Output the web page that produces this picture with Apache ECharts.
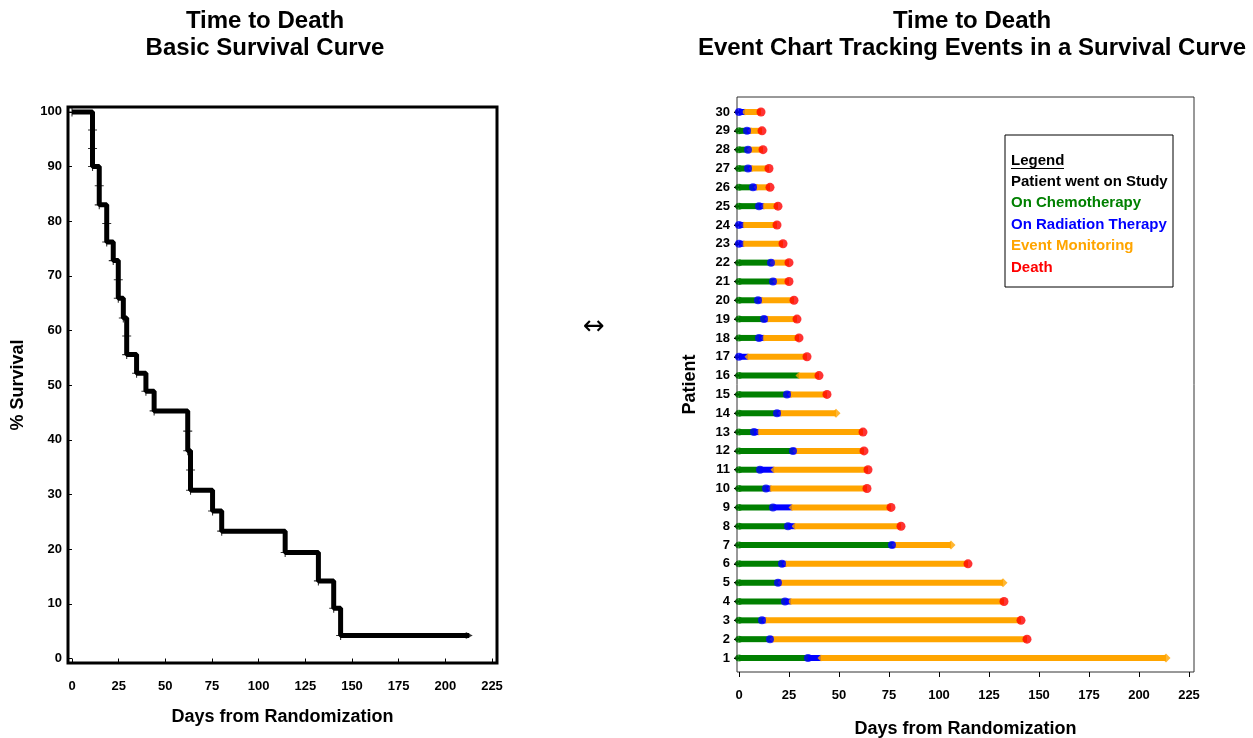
<!DOCTYPE html>
<html>
<head>
<meta charset="utf-8">
<script src="https://cdn.jsdelivr.net/npm/echarts@6/dist/echarts.min.js"></script>
<style>
  html, body { margin: 0; padding: 0; background: #fff; }
  #chart { width: 1253px; height: 738px; }
</style>
</head>
<body>
<div id="chart"></div>
<script>
// left panel: survival steps (day, % surviving after the step)
const stepDays = [0, 11, 14.6, 18.6, 22.1, 24.8, 27.5, 29.3, 34.6, 39.6, 44, 62, 63.5, 75.3, 80.2, 114.2, 132, 140.2, 143.9, 212.8];
const stepSurv = [100, 90, 83, 76.2, 72.8, 65.9, 62.3, 55.6, 52.2, 48.9, 45.3, 38, 30.8, 27, 23.3, 19.4, 14.2, 9.2, 4.2, 4.2];
// little "+" marks on the curve
const markDays = [0, 11, 11, 11, 14.6, 14.6, 18.6, 18.6, 22.1, 24.8, 24.8, 27.5, 29.3, 29.3, 34.6, 39.6, 44, 62, 62, 63.5, 63.5, 75.3, 80.2, 114.2, 132, 140.2, 143.9];
const markSurv = [100, 96.7, 93.3, 90, 86.5, 83, 79.6, 76.2, 72.8, 69.3, 65.9, 62.3, 59, 55.6, 52.2, 48.9, 45.3, 41.6, 38, 34.5, 30.8, 27, 23.3, 19.4, 14.2, 9.2, 4.2];

const survTicksX = [0, 25, 50, 75, 100, 125, 150, 175, 200, 225];
const survTicksY = [0, 10, 20, 30, 40, 50, 60, 70, 80, 90, 100];

// right panel: one entry per patient 1..30
const patients = [1, 2, 3, 4, 5, 6, 7, 8, 9, 10, 11, 12, 13, 14, 15, 16, 17, 18, 19, 20, 21, 22, 23, 24, 25, 26, 27, 28, 29, 30];
const onChemo  = [1, 1, 1, 1, 1, 1, 1, 1, 1, 1, 1, 1, 1, 1, 1, 1, 0, 1, 1, 1, 1, 1, 0, 0, 1, 1, 1, 1, 1, 0];
const radStart = [34.5, 15.5, 11.5, 23, 19.5, 21.5, 76.5, 24.5, 17, 13.5, 10.5, 27, 7.5, 19, 24, 30, 0, 10, 12.5, 9.5, 17, 16, 0, 0, 10, 7, 4.5, 4.5, 4, 0];
const monStart = [41, 17, 13.5, 26, 21, 23.5, 78, 28, 26.5, 16, 17.5, 28.5, 10, 21, 26, 30, 4.5, 12.5, 14.5, 11.5, 18.5, 17, 2.5, 2.5, 12.5, 9, 6.5, 5.5, 6, 3];
const lastDay  = [213.5, 144, 141, 132.5, 132, 114.5, 106, 81, 76, 64, 64.5, 62.5, 62, 48.5, 44, 40, 34, 30, 29, 27.5, 25, 25, 22, 19, 19.5, 15.5, 15, 12, 11.5, 11];
const died     = [0, 1, 1, 1, 0, 1, 0, 1, 1, 1, 1, 1, 1, 0, 1, 1, 1, 1, 1, 1, 1, 1, 1, 1, 1, 1, 1, 1, 1, 1];

const eventTicksX = [0, 25, 50, 75, 100, 125, 150, 175, 200, 225];

const legendLines = ["Patient went on Study", "On Chemotherapy", "On Radiation Therapy", "Event Monitoring", "Death"];

const GREEN = "#008000", BLUE = "#0000ff", ORANGE = "#ffa500", RED = "#ff0000";
const legendColors = ["#000", GREEN, BLUE, ORANGE, RED];
const FONT = "Liberation Sans";

const chemoBars = [], radBars = [], monBars = [];
const chemoPts = [], radPts = [], monPts = [], deathPts = [], censorPts = [], studyPts = [];
patients.forEach((p, i) => {
  studyPts.push([0, p]);
  if (onChemo[i]) {
    chemoBars.push([p, 0, radStart[i]]);
    chemoPts.push([0, p]);
  }
  if (monStart[i] > radStart[i]) {
    radBars.push([p, radStart[i], monStart[i]]);
    radPts.push([radStart[i], p]);
  }
  monBars.push([p, monStart[i], lastDay[i]]);
  monPts.push([monStart[i], p]);
  if (died[i]) deathPts.push([lastDay[i], p]);
  else censorPts.push([lastDay[i], p]);
});

const segment = (params, api) => {
  const p = api.value(0);
  const a = api.coord([api.value(1), p]);
  const b = api.coord([api.value(2), p]);
  return {
    type: "rect",
    shape: { x: a[0], y: a[1] - 3, width: b[0] - a[0], height: 6 },
    style: { fill: api.visual("color") },
  };
};

const barSeries = (data, color) => ({
  type: "custom",
  xAxisIndex: 1,
  yAxisIndex: 1,
  renderItem: segment,
  encode: { x: [1, 2], y: 0 },
  itemStyle: { color: color },
  data: data,
  silent: true,
});

const dots = (data, color, symbol, size, z) => ({
  type: "scatter",
  xAxisIndex: 1,
  yAxisIndex: 1,
  symbol: symbol,
  symbolSize: size,
  itemStyle: { color: color },
  data: data,
  z: z,
  silent: true,
});

const tickLabel = { color: "#000", fontFamily: FONT, fontSize: 13, fontWeight: "bold" };
const axisName = { color: "#000", fontFamily: FONT, fontSize: 18, fontWeight: "bold" };
const titleStyle = { fontFamily: FONT, fontSize: 24, fontWeight: "bold", color: "#000", lineHeight: 27 };

// legend box texts
const legendGraphics = [
  {
    type: "rect",
    shape: { x: 1005, y: 135, width: 168, height: 152 },
    style: { fill: null, stroke: "#000", lineWidth: 1 },
    z: 20,
  },
  {
    type: "text",
    left: 1011,
    top: 153,
    z: 21,
    style: { text: "Legend", fill: "#000", font: "bold 15px 'Liberation Sans'" },
  },
  {
    type: "rect",
    shape: { x: 1011, y: 168, width: 53, height: 1 },
    style: { fill: "#000" },
    z: 21,
  },
].concat(legendLines.map((t, i) => ({
  type: "text",
  left: 1011,
  top: 174 + i * 21.5,
  z: 21,
  style: { text: t, fill: legendColors[i], font: "bold 15px 'Liberation Sans'" },
})));

const chart = echarts.init(document.getElementById("chart"));

chart.setOption({
  animation: false,
  title: [
    { text: "Time to Death\nBasic Survival Curve", left: 260, top: 3, textAlign: "center", textStyle: titleStyle },
    { text: "Time to Death\nEvent Chart Tracking Events in a Survival Curve", left: 967, top: 3, textAlign: "center", textStyle: titleStyle },
  ],
  grid: [
    { left: 68, top: 107, width: 429, height: 556, show: true, borderColor: "#000", borderWidth: 3, outerBoundsMode: "none" },
    { left: 737, top: 97, width: 457, height: 575, show: true, borderColor: "#333", borderWidth: 1, outerBoundsMode: "none" },
  ],
  xAxis: [
    {
      gridIndex: 0,
      type: "value",
      min: -2.14,
      max: 227.68,
      name: "Days from Randomization",
      nameLocation: "middle",
      nameGap: 45,
      nameTextStyle: axisName,
      axisLine: { show: false },
      splitLine: { show: false },
      axisTick: { show: true, customValues: survTicksX, length: 5, lineStyle: { color: "#000", width: 1 } },
      axisLabel: Object.assign({ customValues: survTicksX, margin: 17 }, tickLabel),
    },
    {
      gridIndex: 1,
      type: "value",
      min: -1,
      max: 227.5,
      name: "Days from Randomization",
      nameLocation: "middle",
      nameGap: 48,
      nameTextStyle: axisName,
      axisLine: { show: false },
      splitLine: { show: false },
      axisTick: { show: true, customValues: eventTicksX, length: 5, lineStyle: { color: "#000", width: 1 } },
      axisLabel: Object.assign({ customValues: eventTicksX, margin: 17 }, tickLabel),
    },
  ],
  yAxis: [
    {
      gridIndex: 0,
      type: "value",
      min: -0.82,
      max: 100.9,
      name: "% Survival",
      nameLocation: "middle",
      nameGap: 41,
      nameTextStyle: axisName,
      axisLine: { show: false },
      splitLine: { show: false },
      axisTick: { show: true, customValues: survTicksY, length: 5, lineStyle: { color: "#000", width: 1 } },
      axisLabel: Object.assign({ customValues: survTicksY, margin: 6 }, tickLabel),
    },
    {
      gridIndex: 1,
      type: "value",
      min: 0.2565,
      max: 30.797,
      name: "Patient",
      nameLocation: "middle",
      nameGap: 38,
      nameTextStyle: axisName,
      axisLine: { show: false },
      splitLine: { show: false },
      axisTick: { show: true, customValues: patients, length: 5, lineStyle: { color: "#000", width: 1 } },
      axisLabel: Object.assign({ customValues: patients, margin: 7 }, tickLabel),
    },
  ],
  graphic: [
    {
      type: "text",
      left: 583,
      top: 314,
      style: { text: "\u2194", font: "26px 'DejaVu Sans'", fill: "#000" },
    },
  ].concat(legendGraphics),
  series: [
    {
      type: "line",
      xAxisIndex: 0,
      yAxisIndex: 0,
      step: "end",
      symbol: "none",
      lineStyle: { color: "#000", width: 5 },
      data: stepDays.map((d, i) => [d, stepSurv[i]]),
      silent: true,
    },
    {
      type: "scatter",
      xAxisIndex: 0,
      yAxisIndex: 0,
      symbol: "path://M-1,-0.12H1V0.12H-1Z M-0.12,-1H0.12V1H-0.12Z",
      symbolSize: 9,
      itemStyle: { color: "#000" },
      data: markDays.map((d, i) => [d, markSurv[i]]),
      silent: true,
    },
    {
      type: "scatter",
      xAxisIndex: 0,
      yAxisIndex: 0,
      symbol: "triangle",
      symbolRotate: -90,
      symbolSize: 7,
      itemStyle: { color: "#000" },
      data: [[stepDays[stepDays.length - 1], stepSurv[stepSurv.length - 1]]],
      silent: true,
    },
    barSeries(chemoBars, GREEN),
    barSeries(radBars, BLUE),
    barSeries(monBars, ORANGE),
    Object.assign(dots(studyPts, "#000", "diamond", 6, 3), { symbolOffset: [-2, 0] }),
    dots(chemoPts, GREEN, "circle", 7, 4),
    dots(radPts, BLUE, "circle", 8, 5),
    dots(monPts, ORANGE, "diamond", 7, 4),
    dots(censorPts, ORANGE, "diamond", 9, 5),
    dots(deathPts, RED, "circle", 9, 6),
  ],
});
</script>
</body>
</html>
